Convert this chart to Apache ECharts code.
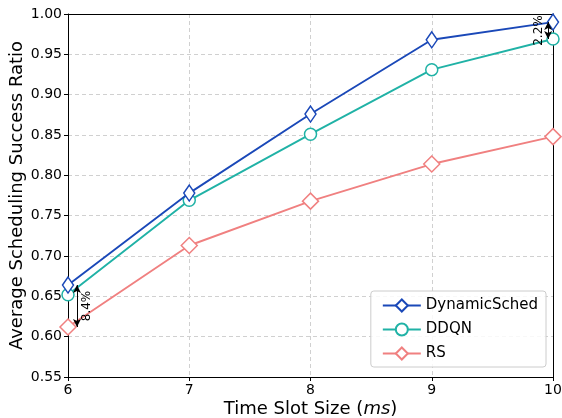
<!DOCTYPE html>
<html>
<head>
<meta charset="utf-8">
<script src="https://cdn.jsdelivr.net/npm/echarts@6/dist/echarts.min.js"></script>
<style>
  html, body { margin: 0; padding: 0; background: #fff; }
  #chart { width: 562px; height: 418px; }
</style>
</head>
<body>
<div id="chart"></div>
<script>
var slotSizes = [6, 7, 8, 9, 10];
var dynamicSched = [0.664, 0.778, 0.876, 0.968, 0.990];
var ddqn = [0.652, 0.769, 0.851, 0.931, 0.969];
var rs = [0.612, 0.713, 0.768, 0.814, 0.848];
var gapLow = ['8.4%', 6, 0.664, 0.612];   // label, x, from, to
var gapHigh = ['2.2%', 10, 0.990, 0.969];

function pairs(ys) {
  return slotSizes.map(function (x, i) { return [x, ys[i]]; });
}

var font = 'DejaVu Sans';
var myChart = echarts.init(document.getElementById('chart'));

function arrowLine(g, dx) {
  return {
    silent: true,
    symbol: ['arrow', 'arrow'],
    symbolSize: [6, 8],
    lineStyle: { color: '#000', type: 'solid', width: 1 },
    label: { show: false },
    data: [[{ coord: [g[1] + dx, g[2]] }, { coord: [g[1] + dx, g[3]] }]]
  };
}

// plain axis used only as the top / right frame line
function frameAxis(pos, base) {
  return {
    type: 'value', position: pos, min: base.min, max: base.max,
    axisLine: { show: true, onZero: false, lineStyle: { color: '#000' } },
    axisTick: { show: false }, axisLabel: { show: false }, splitLine: { show: false }
  };
}

var gridDash = { show: true, lineStyle: { color: '#d0d0d0', type: [4, 3] } };
var xMain = {
  type: 'value', min: 6, max: 10, interval: 1,
  name: 'Time Slot Size ({i|ms})',
  nameLocation: 'middle', nameGap: 23, nameMoveOverlap: false,
  nameTextStyle: {
    fontFamily: font, fontSize: 18, color: '#000',
    rich: { i: { fontFamily: font, fontSize: 18, fontStyle: 'italic', color: '#000' } }
  },
  axisLine: { show: true, lineStyle: { color: '#000' } },
  axisTick: { show: true, length: 4, lineStyle: { color: '#000' } },
  axisLabel: { fontFamily: font, fontSize: 14, color: '#000', margin: 6 },
  splitLine: gridDash
};
var yMain = {
  type: 'value', min: 0.55, max: 1.0, interval: 0.05,
  name: 'Average Scheduling Success Ratio',
  nameLocation: 'middle', nameGap: 42, nameMoveOverlap: false,
  nameTextStyle: { fontFamily: font, fontSize: 18, color: '#000' },
  axisLine: { show: true, lineStyle: { color: '#000' } },
  axisTick: { show: true, length: 4, lineStyle: { color: '#000' } },
  axisLabel: {
    fontFamily: font, fontSize: 14, color: '#000', margin: 6,
    formatter: function (v) { return v.toFixed(2); }
  },
  splitLine: gridDash
};

var option = {
  animation: false,
  grid: {
    left: 68, right: 9, top: 14, bottom: 41,
    outerBoundsMode: 'none',
    containLabel: false
  },
  xAxis: [xMain, frameAxis('top', xMain)],
  yAxis: [yMain, frameAxis('right', yMain)],
  legend: {
    right: 16, bottom: 51,
    orient: 'vertical',
    itemWidth: 38, itemHeight: 15, itemGap: 9,
    padding: [7, 8, 6, 11],
    borderColor: '#ccc', borderWidth: 1, borderRadius: 3,
    backgroundColor: 'rgba(255,255,255,0.85)',
    textStyle: { fontFamily: font, fontSize: 15, color: '#000' },
    data: ['DynamicSched', 'DDQN', 'RS']
  },
  series: [
    {
      name: 'DynamicSched', type: 'line', data: pairs(dynamicSched),
      symbol: 'diamond', symbolSize: [11, 16],
      itemStyle: { color: '#fff', borderColor: '#1a48b8', borderWidth: 1.5 },
      lineStyle: { color: '#1a48b8', width: 1.9 },
      z: 4,
      markLine: arrowLine(gapHigh, -0.04)
    },
    {
      name: 'DDQN', type: 'line', data: pairs(ddqn),
      symbol: 'circle', symbolSize: 12,
      itemStyle: { color: '#fff', borderColor: '#20b2a6', borderWidth: 1.5 },
      lineStyle: { color: '#20b2a6', width: 1.9 },
      z: 3,
      markLine: arrowLine(gapLow, 0.074)
    },
    {
      name: 'RS', type: 'line', data: pairs(rs),
      symbol: 'diamond', symbolSize: [16, 16],
      itemStyle: { color: '#fff', borderColor: '#f08080', borderWidth: 1.5 },
      lineStyle: { color: '#f08080', width: 1.9 },
      z: 2
    }
  ]
};
myChart.setOption(option);

function gapText(g, dx) {
  var p = myChart.convertToPixel({ xAxisIndex: 0, yAxisIndex: 0 }, [g[1] + dx, (g[2] + g[3]) / 2]);
  return {
    type: 'text', x: p[0], y: p[1], rotation: Math.PI / 2,
    style: {
      text: g[0], fontFamily: font, fontSize: 12, fill: '#000',
      align: 'center', verticalAlign: 'middle'
    },
    z: 10
  };
}
myChart.setOption({
  graphic: [gapText(gapLow, 0.157), gapText(gapHigh, -0.12)]
});
</script>
</body>
</html>
